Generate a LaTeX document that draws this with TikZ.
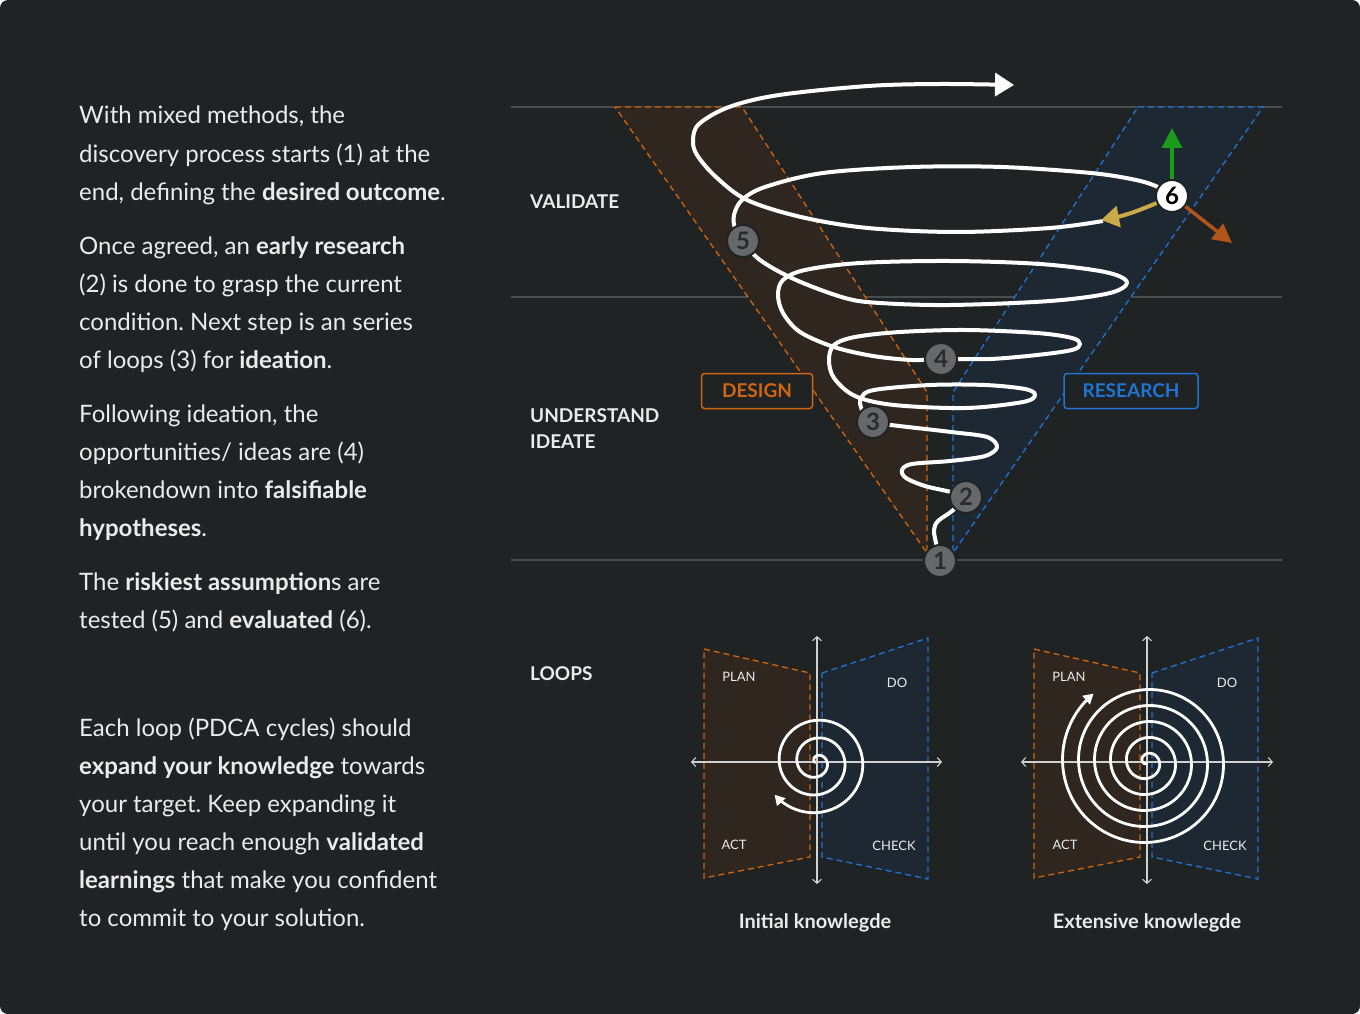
\documentclass[tikz,border=0pt]{standalone}
\usepackage{fontspec}
\setmainfont{Lato}
\usetikzlibrary{arrows.meta}
\frenchspacing
\definecolor{bg}{HTML}{202324}
\definecolor{txt}{HTML}{EBEBEB}
\definecolor{sep}{HTML}{4A4D4F}
\definecolor{org}{HTML}{D2660E}
\definecolor{blu}{HTML}{1F74D4}
\definecolor{orgfill}{HTML}{2F2620}
\definecolor{blufill}{HTML}{1D2832}
\definecolor{numgray}{HTML}{67686A}
\definecolor{numtxt}{HTML}{2A2B2C}
\definecolor{grn}{HTML}{1B9A1B}
\definecolor{brn}{HTML}{B3551A}
\definecolor{ylw}{HTML}{C9A94A}
\definecolor{axisc}{HTML}{D0D0D0}
\newcommand{\myBody}{\fontsize{24}{28}\selectfont}
\newcommand{\myLabel}{\fontsize{19}{21}\selectfont\bfseries}
\newcommand{\myCap}{\fontsize{20}{22}\selectfont\bfseries}
\newcommand{\mySmall}{\fontsize{13}{15}\selectfont}
\begin{document}
\begin{tikzpicture}[x=1pt,y=-1pt,
  body/.style={anchor=base west, inner sep=0pt, font=\myBody, text=txt},
  sect/.style={anchor=base west, inner sep=0pt, font=\myLabel, text=txt},
  sepline/.style={draw=sep, line width=1.3pt},
  orgband/.style={fill=orgfill, draw=org, line width=1.3pt, dash pattern=on 6pt off 4pt},
  bluband/.style={fill=blufill, draw=blu, line width=1.3pt, dash pattern=on 6pt off 4pt},
  tagbox/.style={draw, fill=bg, line width=1.5pt, rounded corners=3pt, minimum height=35pt, inner sep=0pt, font=\myLabel},
  funnel/.style={draw=white, line width=4pt, line cap=round, line join=round},
  numc/.style={circle, fill=numgray, draw=bg, line width=2pt, minimum size=32pt, inner sep=0pt, font=\fontsize{24}{24}\selectfont\bfseries, text=numtxt},
  axisline/.style={draw=axisc, line width=1.1pt, {Straight Barb[length=4pt,width=9pt]}-{Straight Barb[length=4pt,width=9pt]}},
  loopspiral/.style={draw=white, line width=2.8pt, -{Triangle[length=10pt,width=11pt]}},
  pdca/.style={inner sep=0pt, font=\mySmall, text=txt},
  caption/.style={inner sep=0pt, font=\myCap, text=txt}
]
\useasboundingbox (0,0) rectangle (1360,1014);
\fill[white] (0,0) rectangle (1360,1014);
\fill[bg, rounded corners=8pt] (0,0) rectangle (1360,1014);

% ---------- left text ----------
\node[body] (t1) at (79,124) {With mixed methods, the};
\node[body] (t2) at (79,162) {discovery process starts (1) at the};
\node[body] (t3) at (79,200) {end, defining the \textbf{desired outcome}.};
\node[body] (t4) at (79,254) {Once agreed, an \textbf{early research}};
\node[body] (t5) at (79,292) {(2) is done to grasp the current};
\node[body] (t6) at (79,330) {condition. Next step is an series};
\node[body] (t7) at (79,368) {of loops (3) for \textbf{ideation}.};
\node[body] (t8) at (79,422) {Following ideation, the};
\node[body] (t9) at (79,460) {opportunities/ ideas are (4)};
\node[body] (t10) at (79,498) {brokendown into \textbf{falsifiable}};
\node[body] (t11) at (79,536) {\textbf{hypotheses}.};
\node[body] (t12) at (79,590) {The \textbf{riskiest assumption}s are};
\node[body] (t13) at (79,628) {tested (5) and \textbf{evaluated} (6).};
\node[body] (t14) at (79,736) {Each loop (PDCA cycles) should};
\node[body] (t15) at (79,774) {\textbf{expand your knowledge} towards};
\node[body] (t16) at (79,812) {your target. Keep expanding it};
\node[body] (t17) at (79,850) {until you reach enough \textbf{validated}};
\node[body] (t18) at (79,888) {\textbf{learnings} that make you confident};
\node[body] (t19) at (79,926) {to commit to your solution.};

% ---------- section labels ----------
\node[sect] (validate) at (530,208) {VALIDATE};
\node[sect] (understand) at (530,422) {UNDERSTAND};
\node[sect] (ideate) at (530,448) {IDEATE};
\node[sect] (loops) at (530,680) {LOOPS};

% ---------- separators ----------
\draw[sepline] (511,107) -- (1282,107);
\draw[sepline] (511,297) -- (1282,297);
\draw[sepline] (511,560) -- (1282,560);

% ---------- funnel bands ----------
\draw[orgband] (615,107) -- (742,107) -- (927,392) -- (927,553) -- cycle;
\draw[bluband] (1138,107) -- (1263,107) -- (953,553) -- (953,392) -- cycle;

\node[tagbox, draw=org, text=org, minimum width=111pt] (design) at (757,391) {DESIGN};
\node[tagbox, draw=blu, text=blu, minimum width=134pt] (research) at (1131,391) {RESEARCH};

% ---------- spiral ----------
\coordinate (c1) at (940,561);
\coordinate (c2) at (966,497);
\coordinate (c3) at (873,422);
\coordinate (c4) at (941,359);
\coordinate (c5) at (743,241);
\coordinate (c6) at (1172,196);
\coordinate (ystart) at (1103,221);
\coordinate (topend) at (1014,85);

\draw[funnel] plot[smooth, tension=0.55] coordinates {
 (c1) (936,543) (934,530) (938,521) (952,511) (c2)
 (951,492) (925,486) (906,478) (902,470) (912,464) (950,461) (985,456) (997,447) (987,437) (951,432) (891,425) (c3)
 (862,410) (861,398) (874,390) (930,385) (985,385) (1025,389) (1035,395) (1023,402) (966,408) (894,405) (855,396) (834,378) (829,360) (834,345) (855,337) (900,332) (966,330) (1037,333) (1072,338) (1080,344) (1072,350) (1037,355) (990,359) (c4)
 (912,360) (873,356) (834,347) (800,332) (783,313) (778,295) (783,280) (805,270) (860,263) (950,261) (1040,264) (1105,272) (1127,282) (1110,293) (1050,301) (950,305) (880,303) (845,298) (796,280) (760,260) (c5)
 (735,228) (734,215) (742,200) (765,187) (823,173) (912,167) (1002,167) (1091,173) (1136,180) (1158,187) (c6)
};
\draw[funnel, line cap=butt, -{Triangle[length=19pt,width=23pt]}] plot[smooth, tension=0.55] coordinates {
 (ystart) (1050,228) (957,232) (868,228) (801,217) (747,200) (716,177) (697,155) (693,140) (699,124) (729,107) (779,95) (868,86) (940,84) (topend)
};

\node[numc] (n1) at (c1) {1};
\node[numc] (n2) at (c2) {2};
\node[numc] (n3) at (c3) {3};
\node[numc] (n4) at (c4) {4};
\node[numc] (n5) at (c5) {5};
\node[numc, fill=white, text=black] (n6) at (c6) {6};

\coordinate (gtip) at (1172,128);
\coordinate (btip) at (1232,243);
\coordinate (ytip) at (1101,220);
\draw[grn, line width=3.5pt, -{Triangle[length=20pt,width=20pt]}] (n6) -- (gtip);
\draw[brn, line width=3.5pt, -{Triangle[length=19pt,width=19pt]}] (n6) -- (btip);
\draw[ylw, line width=4pt, -{Triangle[length=18pt,width=21pt]}] (n6) to[bend left=6] (ytip);

% ---------- loops: initial ----------
\draw[orgband] (704,649) -- (810,673) -- (810,857) -- (704,878) -- cycle;
\draw[bluband] (822,673) -- (928,638) -- (928,879) -- (822,857) -- cycle;
\coordinate (la-w) at (691,762); \coordinate (la-e) at (942,762);
\coordinate (la-n) at (817,636); \coordinate (la-s) at (817,884);
\draw[axisline] (la-w) -- (la-e);
\draw[axisline] (la-n) -- (la-s);
\node[pdca] (plan1) at (739,677) {PLAN};
\node[pdca] (do1) at (897,683) {DO};
\node[pdca] (act1) at (734,845) {ACT};
\node[pdca] (check1) at (894,846) {CHECK};
\draw[loopspiral] plot[domain=-200:862, samples=260, smooth, variable=\t]
  ({816.5+0.049444*(\t+214)*cos(\t)}, {762+0.049444*(\t+214)*sin(\t)});
\node[caption] (cap1) at (815,923) {Initial knowlegde};

% ---------- loops: extensive ----------
\draw[orgband] (1034,649) -- (1140,673) -- (1140,857) -- (1034,878) -- cycle;
\draw[bluband] (1152,673) -- (1258,638) -- (1258,879) -- (1152,857) -- cycle;
\coordinate (lb-w) at (1021,762); \coordinate (lb-e) at (1273,762);
\coordinate (lb-n) at (1147,636); \coordinate (lb-s) at (1147,884);
\draw[axisline] (lb-w) -- (lb-e);
\draw[axisline] (lb-n) -- (lb-s);
\node[pdca] (plan2) at (1069,677) {PLAN};
\node[pdca] (do2) at (1227,683) {DO};
\node[pdca] (act2) at (1065,845) {ACT};
\node[pdca] (check2) at (1225,846) {CHECK};
\draw[loopspiral] plot[domain=-265:1672, samples=420, smooth, variable=\t]
  ({1147+0.044444*(\t+280)*cos(\t)}, {762+0.044444*(\t+280)*sin(\t)});
\node[caption] (cap2) at (1147,923) {Extensive knowlegde};
\end{tikzpicture}
\end{document}
